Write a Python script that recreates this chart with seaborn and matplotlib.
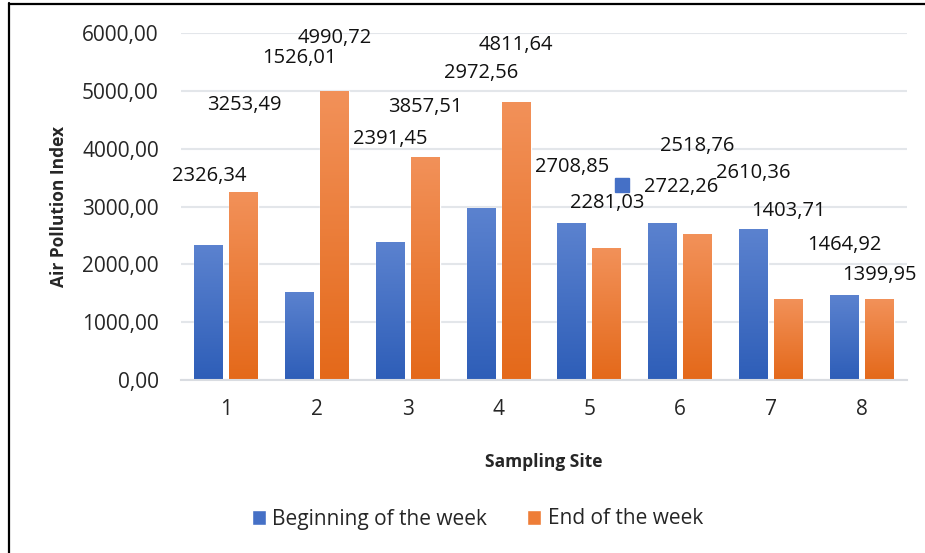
import numpy as np
import pandas as pd
import seaborn as sns
import matplotlib.pyplot as plt
from matplotlib.lines import Line2D
from matplotlib.patches import Patch
from matplotlib.colors import LinearSegmentedColormap

# data
sites = ['1', '2', '3', '4', '5', '6', '7', '8']
series = ['Beginning of the week', 'End of the week']
beginning = [2326.34, 1526.01, 2391.45, 2972.56, 2708.85, 2722.26, 2610.36, 1464.92]
end_week = [3253.49, 4990.72, 3857.51, 4811.64, 2281.03, 2518.76, 1403.71, 1399.95]
yticks = [0, 1000, 2000, 3000, 4000, 5000, 6000]

# where the (dragged) data labels sit, in axis units
label_y_begin = [3530, 5560, 4170, 5310, 3685, 3340, 3580, 2335]
label_y_end = [4755, 5915, 4720, 5795, 3060, 4045, 2920, 1815]

df = pd.DataFrame({
    'site': sites * 2,
    'value': beginning + end_week,
    'series': [series[0]] * 8 + [series[1]] * 8,
})

sns.set_style('white')
plt.rcParams['font.family'] = ['Open Sans', 'DejaVu Sans']

fig = plt.figure(figsize=(9.25, 5.53), dpi=100)
ax = fig.add_axes([0.1957, 0.3128, 0.7848, 0.6275])

blue = ('#5B82CF', '#2E5EB8')
orange = ('#F29159', '#E4691A')
sns.barplot(data=df, x='site', y='value', hue='series', order=sites,
            hue_order=series, palette=[blue[1], orange[1]],
            width=0.77, gap=0.17, ax=ax, legend=False, errorbar=None)

# gradient fill on each bar, like the office chart
grads = [LinearSegmentedColormap.from_list('b', [blue[1], blue[0]]),
         LinearSegmentedColormap.from_list('o', [orange[1], orange[0]])]
for i, p in enumerate(ax.patches[:16]):
    cmap = grads[i // 8]
    x0, w, h = p.get_x(), p.get_width(), p.get_height()
    im = ax.imshow(np.linspace(0, 1, 100).reshape(-1, 1), cmap=cmap, aspect='auto',
                   origin='lower', extent=[x0, x0 + w, 0, h], zorder=2)
    im.set_clip_path(p)
    p.set_zorder(1)
ax.set_xlim(-0.5, 7.5)
ax.set_ylim(0, 6000)

# data labels
off = 0.1925
for i in range(8):
    xb = i - off
    if i == 5:
        xb = i - off + 0.2
    ax.text(xb, label_y_begin[i], f'{beginning[i]:.2f}'.replace('.', ','),
            ha='center', va='center', fontsize=14.5, color='#111111')
    ax.text(i + off, label_y_end[i], f'{end_week[i]:.2f}'.replace('.', ','),
            ha='center', va='center', fontsize=14.5, color='#111111')
# stray legend key next to one label
ax.plot([4.36], [3370], marker='s', markersize=10,
        color='#4570C6', linestyle='none')

ax.set_yticks(yticks)
ax.set_yticklabels([f'{v:.2f}'.replace('.', ',') for v in yticks], fontsize=15)
ax.tick_params(axis='x', labelsize=15, pad=14, length=0)
ax.tick_params(axis='y', pad=16, length=0)
ax.yaxis.grid(True, color='#E3E6EA', linewidth=1.5)
ax.set_axisbelow(True)
for s in ['top', 'right', 'left']:
    ax.spines[s].set_visible(False)
ax.spines['bottom'].set_color('#D9DCE1')
ax.spines['bottom'].set_linewidth(1.5)

ax.set_xlabel('Sampling Site', fontsize=12.5, fontweight='bold')
ax.xaxis.set_label_coords(0.5, -0.21)
ax.set_ylabel('Air Pollution Index', fontsize=12.5, fontweight='bold')
ax.yaxis.set_label_coords(-0.156, 0.5)

handles = [Patch(facecolor='#4570C6'), Patch(facecolor='#EE7D37')]
fig.legend(handles, series, loc='center', bbox_to_anchor=(0.516, 1 - 519 / 553),
           ncol=2, frameon=False, fontsize=15, handlelength=0.7, handleheight=0.7,
           handletextpad=0.3, columnspacing=1.9)

# chart border (only top and left show)
fig.add_artist(Line2D([9 / 925, 9 / 925], [0, 1 - 3 / 553], color='black', linewidth=1.6,
                      transform=fig.transFigure))
fig.add_artist(Line2D([9 / 925, 1], [1 - 4 / 553, 1 - 4 / 553], color='black', linewidth=1.6,
                      transform=fig.transFigure))

fig.savefig('out.png', dpi=100)
